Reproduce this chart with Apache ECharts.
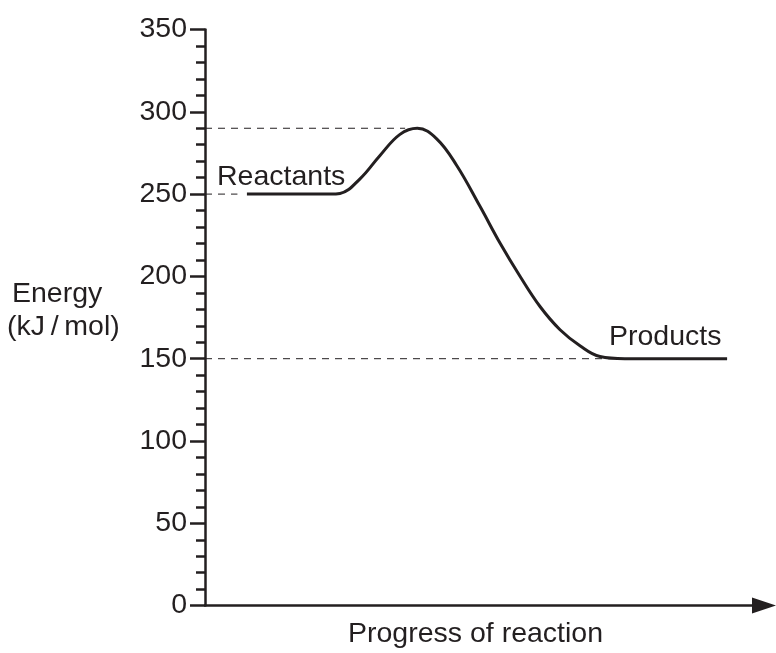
<!DOCTYPE html>
<html>
<head>
<meta charset="utf-8">
<script src="https://cdn.jsdelivr.net/npm/echarts@6/dist/echarts.min.js"></script>
<style>
  html, body { margin: 0; padding: 0; background: #fff; }
  #chart { width: 776px; height: 653px; }
</style>
</head>
<body>
<div id="chart"></div>
<script>
// 能量曲线（横轴：反应进程 0-100，纵轴：能量 kJ/mol）
const progress = [7.5, 22.4, 24.15, 27.73, 31.31, 34.88, 37.98, 41.45, 45.03, 49.19, 52.77,
                  56.35, 59.93, 63.51, 67.08, 70.66, 75.1, 93.4];
const energy   = [250, 250, 250.4, 259.3, 273.5, 286.3, 290, 283.6, 267.4, 242.6, 220.3,
                  200.1, 181.7, 167.6, 157.9, 151.3, 150, 150];

// 虚线参考线：能量值 + 终点横坐标
const refLevels = [290, 250, 150];
const refEnds   = [35.8, 5.8, 72.5];

const yTicks = [0, 50, 100, 150, 200, 250, 300, 350];

const INK = '#231f20';
const FONT = 'Liberation Sans, Arial, sans-serif';

const chart = echarts.init(document.getElementById('chart'));

const curveData = progress.map((x, i) => [x, energy[i]]);

const refSeries = refLevels.map((lvl, i) => ({
    type: 'line',
    data: [[0, lvl], [refEnds[i], lvl]],
    symbol: 'none',
    silent: true,
    lineStyle: { color: INK, width: 1, type: [7, 6] },
    z: 1
}));

const option = {
    animation: false,
    backgroundColor: '#fff',
    grid: { left: 205, right: 12, top: 29.5, bottom: 47.4 },
    xAxis: {
        type: 'value',
        min: 0,
        max: 100,
        axisLine: {
            show: true,
            symbol: ['none', 'triangle'],
            symbolSize: [16, 24],
            lineStyle: { color: INK, width: 2.5 }
        },
        axisTick: { show: false },
        axisLabel: { show: false },
        splitLine: { show: false }
    },
    yAxis: {
        type: 'value',
        min: yTicks[0],
        max: yTicks[yTicks.length - 1],
        interval: 50,
        axisLine: { show: true, lineStyle: { color: INK, width: 2.5 } },
        axisTick: { show: true, length: 15, lineStyle: { color: INK, width: 2.5 } },
        minorTick: { show: true, splitNumber: 5, length: 9, lineStyle: { color: INK, width: 2.5 } },
        axisLabel: { color: INK, fontSize: 28.5, fontFamily: FONT, margin: 18 },
        splitLine: { show: false }
    },
    series: [
        ...refSeries,
        {
            type: 'line',
            data: curveData,
            smooth: 0.4,
            symbol: 'none',
            lineStyle: { color: INK, width: 3 },
            z: 3
        }
    ],
    graphic: [
        { type: 'text', left: 217, top: 163, style: { text: 'Reactants', fill: INK, font: '28.5px ' + FONT } },
        { type: 'text', left: 609, top: 323, style: { text: 'Products', fill: INK, font: '28.5px ' + FONT } },
        { type: 'text', left: 12, top: 280, style: { text: 'Energy', fill: INK, font: '28.5px ' + FONT } },
        { type: 'text', left: 7, top: 313, style: { text: '(kJ\u2009/\u2009mol)', fill: INK, font: '28.5px ' + FONT } },
        { type: 'text', left: 348, top: 620, style: { text: 'Progress of reaction', fill: INK, font: '28.5px ' + FONT } }
    ]
};

chart.setOption(option);
</script>
</body>
</html>
